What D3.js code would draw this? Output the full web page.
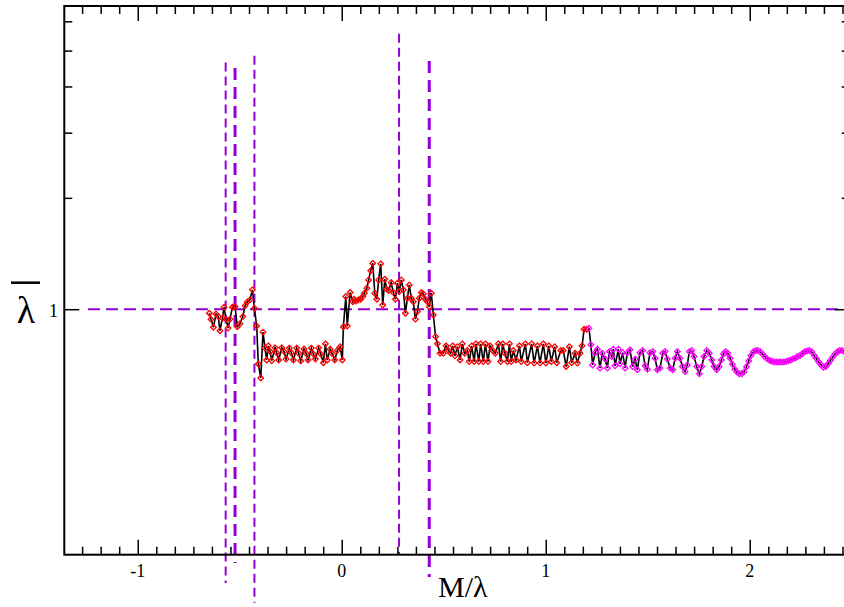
<!DOCTYPE html>
<html>
<head>
<meta charset="utf-8">
<script src="https://cdn.jsdelivr.net/npm/d3@7"></script>
<style>
  body { margin: 0; background: #fff; }
  svg { display: block; }
  .lbl { font-family: "Liberation Serif", "Times New Roman", serif; fill: #000; }
</style>
</head>
<body>
<svg id="chart"></svg>
<script>
// x tick values and labels
const xMajorTicks = [-1, 0, 1, 2];
const xTickLabels = ["-1", "0", "1", "2"];
const yMajorTicks = [1];
const yTickLabels = ["1"];
const yMinorTicks = [2, 3, 4, 5, 6];

// black line with red open diamonds  [M/lambda, lambda-bar]
const redPts = [
  [-0.649,0.975],[-0.641,0.940],[-0.629,0.894],[-0.616,0.971],[-0.605,0.955],[-0.597,0.875],[-0.585,0.946],
  [-0.577,1.013],[-0.567,0.940],[-0.557,0.889],[-0.548,0.940],[-0.536,1.013],[-0.523,1.016],[-0.512,0.897],
  [-0.499,0.913],[-0.485,0.955],[-0.474,1.021],[-0.463,1.046],[-0.450,1.060],[-0.438,1.128],[-0.428,1.006],
  [-0.417,0.901],[-0.409,0.711],[-0.397,0.652],[-0.386,0.867],[-0.376,0.785],[-0.368,0.729],
  [-0.360,0.796],[-0.351,0.768],[-0.343,0.726],[-0.327,0.787],[-0.319,0.763],[-0.309,0.729],[-0.294,0.787],
  [-0.283,0.768],[-0.273,0.733],[-0.257,0.785],[-0.247,0.763],[-0.237,0.729],[-0.221,0.785],[-0.211,0.760],
  [-0.201,0.725],[-0.185,0.781],[-0.175,0.760],[-0.165,0.729],[-0.149,0.785],[-0.139,0.757],[-0.129,0.733],
  [-0.113,0.785],[-0.103,0.757],[-0.090,0.717],[-0.080,0.806],[-0.071,0.729],[-0.057,0.780],[-0.048,0.760],
  [-0.034,0.729],[-0.022,0.773],[-0.008,0.792],[0.003,0.729],
  [0.008,0.897],[0.020,1.082],[0.027,0.901],[0.041,1.109],[0.054,1.048],[0.060,1.064],[0.070,1.053],
  [0.081,1.060],[0.093,1.064],[0.103,1.082],[0.111,1.105],[0.123,1.140],[0.132,1.200],[0.142,1.271],
  [0.152,1.331],[0.162,1.105],[0.172,1.064],[0.181,1.200],[0.191,1.326],[0.201,1.027],[0.211,1.205],
  [0.221,1.133],[0.230,1.123],[0.242,1.180],[0.253,1.109],[0.263,1.064],[0.273,1.176],[0.282,1.116],
  [0.292,1.200],[0.302,1.128],[0.312,0.975],[0.322,1.071],[0.331,1.163],[0.341,1.071],[0.351,1.048],
  [0.361,0.940],[0.371,0.985],[0.380,1.071],[0.390,1.109],[0.400,1.100],[0.410,1.064],[0.420,1.048],
  [0.429,1.016],[0.439,1.105],[0.449,0.965],[0.460,0.843],
  [0.469,0.806],[0.482,0.760],[0.498,0.760],[0.511,0.796],[0.523,0.773],[0.534,0.760],[0.544,0.796],
  [0.555,0.748],[0.567,0.792],[0.580,0.729],[0.591,0.806],[0.603,0.760],[0.616,0.773],[0.625,0.722],
  [0.637,0.796],[0.649,0.722],[0.658,0.806],[0.672,0.722],[0.681,0.806],[0.694,0.722],[0.704,0.806],
  [0.717,0.722],[0.727,0.796],[0.740,0.773],[0.753,0.760],[0.768,0.806],[0.779,0.722],[0.789,0.806],
  [0.800,0.760],[0.812,0.722],[0.822,0.806],[0.831,0.722],[0.841,0.773],[0.854,0.729],[0.871,0.796],
  [0.880,0.722],[0.900,0.806],[0.910,0.717],[0.931,0.806],[0.943,0.715],[0.959,0.796],[0.972,0.715],
  [0.988,0.806],[1.001,0.715],[1.015,0.796],[1.027,0.722],[1.044,0.792],[1.054,0.717],[1.074,0.773],
  [1.086,0.773],[1.100,0.700],[1.116,0.792],[1.127,0.717],[1.144,0.760],[1.155,0.715],[1.168,0.760],
  [1.178,0.796],[1.188,0.883],[1.201,0.883]
];

// black line with magenta open diamonds
const magentaPts = [
  [1.212,0.888],[1.221,0.801],[1.230,0.707],[1.242,0.763],[1.253,0.780],[1.266,0.693],[1.277,0.760],
  [1.291,0.733],[1.302,0.693],[1.312,0.768],[1.324,0.745],[1.331,0.780],[1.340,0.703],[1.356,0.780],
  [1.364,0.712],[1.377,0.763],[1.389,0.693],[1.400,0.763],[1.413,0.777],[1.426,0.700],[1.438,0.733],
  [1.449,0.686],[1.462,0.763],[1.475,0.773],[1.487,0.703],[1.498,0.688],[1.511,0.763],[1.525,0.768],
  [1.536,0.737],[1.547,0.686],[1.560,0.693],[1.574,0.760],[1.585,0.768],[1.596,0.733],[1.610,0.693],
  [1.623,0.686],[1.634,0.737],[1.645,0.768],[1.658,0.737],[1.670,0.700],[1.683,0.678],[1.694,0.707],
  [1.704,0.768],[1.716,0.773],[1.727,0.745],[1.740,0.700],[1.753,0.669],[1.765,0.700],[1.776,0.745],
  [1.789,0.773],[1.802,0.760],[1.814,0.729],[1.825,0.700],[1.838,0.686],
  [1.850,0.700],[1.861,0.729],[1.871,0.757],[1.881,0.768],[1.892,0.760],[1.904,0.737],[1.915,0.710],
  [1.927,0.688],[1.938,0.675],[1.949,0.669],[1.961,0.669],[1.972,0.677],[1.984,0.699],[1.995,0.725],
  [2.006,0.750],[2.018,0.767],[2.029,0.773],[2.040,0.773],[2.052,0.767],[2.064,0.755],[2.075,0.743],
  [2.086,0.734],[2.098,0.727],[2.109,0.723],[2.121,0.720],[2.132,0.720],[2.144,0.720],[2.155,0.720],
  [2.167,0.720],[2.178,0.722],[2.189,0.725],[2.201,0.729],[2.212,0.734],[2.224,0.738],[2.235,0.745],
  [2.247,0.750],[2.258,0.759],[2.270,0.767],[2.281,0.771],[2.292,0.773],[2.304,0.767],[2.316,0.750],
  [2.327,0.736],[2.338,0.720],[2.350,0.707],[2.361,0.697],[2.373,0.700],[2.384,0.712],[2.395,0.727],
  [2.407,0.743],[2.418,0.757],[2.430,0.767],[2.441,0.773],[2.453,0.773],[2.464,0.769],[2.476,0.763]
];

// dashed vertical markers
const vLineX      = [-0.569, -0.523, -0.428, 0.281, 0.429];
const vLineTop    = [4.64, 4.49, 4.84, 5.55, 4.69];
const vLineBottom = [0.182, 0.206, 0.161, 0.218, 0.189];
// dashed horizontal reference
const hLineY = 1;
const hLineFrom = -1.244;

const width = 844, height = 607;
const xDomain = [-1.36, 2.49];
const yDomain = [0.217, 6.6];

const svg = d3.select("#chart")
    .attr("width", width)
    .attr("height", height);

const x = d3.scaleLinear().domain(xDomain).range([64.3, 849.7]);
const y = d3.scaleLog().domain(yDomain).range([554.7, 6]);

const pL = x(xDomain[0]), pR = x(xDomain[1]);
const pT = y(yDomain[1]), pB = y(yDomain[0]);

const purple = "#9400d3";

// reference lines (behind the data)
svg.append("line")
   .attr("x1", x(hLineFrom)).attr("x2", pR)
   .attr("y1", y(hLineY)).attr("y2", y(hLineY))
   .attr("stroke", purple).attr("stroke-width", 2)
   .attr("stroke-dasharray", "12,6");

const thick = [1, 4];
svg.selectAll(".vline")
   .data(vLineX)
   .enter()
   .append("line")
   .attr("class", "vline")
   .attr("x1", d => x(d)).attr("x2", d => x(d))
   .attr("y1", (d, i) => y(vLineTop[i]))
   .attr("y2", (d, i) => y(vLineBottom[i]))
   .attr("stroke", purple)
   .attr("stroke-width", (d, i) => thick.includes(i) ? 3 : 2)
   .attr("stroke-dasharray", (d, i) => thick.includes(i) ? "12,7" : "9,5");

// data
svg.append("clipPath").attr("id", "clip")
   .append("rect").attr("x", pL).attr("y", pT)
   .attr("width", pR - pL).attr("height", pB - pT);
const plot = svg.append("g").attr("clip-path", "url(#clip)");

const line = d3.line().x(d => x(d[0])).y(d => y(d[1]));
const diamond = r => `M0,${-r}L${r},0L0,${r}L${-r},0Z`;

[[redPts, "#ff0000"], [magentaPts, "#ff00ff"]].forEach(([pts, col]) => {
    plot.append("path")
        .datum(pts)
        .attr("d", line)
        .attr("fill", "none")
        .attr("stroke", "#000")
        .attr("stroke-width", 1.6);
    plot.selectAll(null)
        .data(pts)
        .enter()
        .append("path")
        .attr("transform", d => `translate(${x(d[0])},${y(d[1])})`)
        .attr("d", diamond(2.8))
        .attr("fill", "none")
        .attr("stroke", col)
        .attr("stroke-width", 1.3);
});

// frame
svg.append("rect")
   .attr("x", pL).attr("y", pT)
   .attr("width", pR - pL).attr("height", pB - pT)
   .attr("fill", "none").attr("stroke", "#000").attr("stroke-width", 2);

// ticks (inward on all four sides, labels drawn separately)
const xMinor = d3.range(-20, 30).filter(k => k % 11 !== 0).map(k => k / 11)
    .filter(v => v > xDomain[0] && v < xDomain[1]);

function styleAxis(g) {
    g.select(".domain").remove();
    g.selectAll(".tick line").attr("stroke", "#000").attr("stroke-width", 1.5);
}

const axes = [
    [d3.axisBottom(x).tickValues(xMajorTicks).tickSize(-15), `translate(0,${pB})`],
    [d3.axisBottom(x).tickValues(xMinor).tickSize(-8), `translate(0,${pB})`],
    [d3.axisTop(x).tickValues(xMajorTicks).tickSize(-15), `translate(0,${pT})`],
    [d3.axisTop(x).tickValues(xMinor).tickSize(-8), `translate(0,${pT})`],
    [d3.axisLeft(y).tickValues(yMajorTicks).tickSize(-15), `translate(${pL},0)`],
    [d3.axisLeft(y).tickValues(yMinorTicks).tickSize(-8), `translate(${pL},0)`],
    [d3.axisRight(y).tickValues(yMajorTicks).tickSize(-15), `translate(${pR},0)`],
    [d3.axisRight(y).tickValues(yMinorTicks).tickSize(-8), `translate(${pR},0)`]
];
axes.forEach(([ax, tr]) => {
    svg.append("g").attr("transform", tr)
       .call(ax.tickFormat(""))
       .call(styleAxis);
});

// tick labels
svg.selectAll(".xlbl")
   .data(xMajorTicks)
   .enter()
   .append("text")
   .attr("class", "lbl")
   .attr("x", d => x(d))
   .attr("y", 577)
   .attr("text-anchor", "middle")
   .attr("font-size", 18)
   .text((d, i) => xTickLabels[i]);

svg.selectAll(".ylbl")
   .data(yMajorTicks)
   .enter()
   .append("text")
   .attr("class", "lbl")
   .attr("x", 58)
   .attr("y", d => y(d) + 7.5)
   .attr("text-anchor", "end")
   .attr("font-size", 18)
   .text((d, i) => yTickLabels[i]);

// axis titles
svg.append("text")
   .attr("class", "lbl")
   .attr("x", 438).attr("y", 597)
   .attr("font-size", 30)
   .text("M/λ");

svg.append("text")
   .attr("class", "lbl")
   .attr("x", 26).attr("y", 323)
   .attr("text-anchor", "middle")
   .attr("font-size", 38)
   .text("λ");
svg.append("line")
   .attr("x1", 11).attr("x2", 40)
   .attr("y1", 282.7).attr("y2", 282.7)
   .attr("stroke", "#000").attr("stroke-width", 2.5);
</script>
</body>
</html>
